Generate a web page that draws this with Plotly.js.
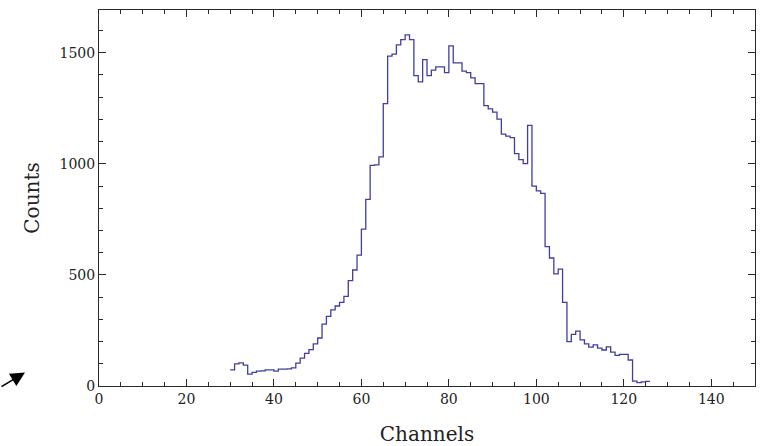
<!DOCTYPE html>
<html><head><meta charset="utf-8">
<script src="https://cdn.plot.ly/plotly-3.0.1.min.js"></script>
<style>html,body{margin:0;padding:0;background:#fff}</style>
</head><body><div id="chart" style="width:763px;height:446px"></div>
<script>
const firstChannel = 30;
const counts = [
  73, 100, 104, 94, 53, 61, 67, 68, 73, 73,
  67, 76, 76, 77, 82, 103, 125, 147, 164, 190,
  216, 278, 313, 343, 360, 376, 403, 474, 522, 589,
  706, 840, 993, 995, 1031, 1271, 1484, 1493, 1535, 1559,
  1580, 1559, 1397, 1369, 1469, 1397, 1421, 1436, 1436, 1410,
  1531, 1454, 1454, 1417, 1410, 1387, 1361, 1361, 1262, 1247,
  1232, 1201, 1133, 1124, 1118, 1046, 1019, 1001, 1173, 899,
  878, 867, 627, 576, 505, 526, 376, 200, 232, 247,
  208, 190, 175, 185, 170, 162, 176, 152, 138, 142,
  142, 117, 22, 15, 19, 21
];
const xTickValues = [0, 20, 40, 60, 80, 100, 120, 140];
const yTickValues = [0, 500, 1000, 1500];
const xTitle = 'Channels';
const yTitle = 'Counts';

// bin edges: left edge of each bin, plus the right edge of the last bin
const edges = counts.map((_, i) => firstChannel + i);
edges.push(firstChannel + counts.length);
const stepCounts = counts.concat([counts[counts.length - 1]]);

const frameColor = '#2a2a2a';
const tickFont = {family: 'DejaVu Serif', size: 14, color: '#222'};
const titleFont = {family: 'DejaVu Serif', size: 20, color: '#222'};

const trace = {
  x: edges, y: stepCounts, type: 'scatter', mode: 'lines',
  line: {shape: 'hv', color: '#3f3fa0', width: 1.3},
  hoverinfo: 'x+y'
};

const layout = {
  width: 763, height: 446,
  margin: {l: 99, r: 8, t: 10, b: 60},
  paper_bgcolor: '#fff', plot_bgcolor: '#fff',
  showlegend: false,
  xaxis: {
    range: [0, 150], tickvals: xTickValues, ticktext: xTickValues.map(String),
    ticks: 'inside', ticklen: 7, tickwidth: 1, tickcolor: frameColor,
    minor: {tick0: 0, dtick: 5, ticks: 'inside', ticklen: 4, tickcolor: frameColor, showgrid: false},
    showline: true, linecolor: frameColor, linewidth: 1, mirror: 'allticks',
    showgrid: false, zeroline: false, tickfont: tickFont,
    title: {text: xTitle, font: titleFont, standoff: 23}
  },
  yaxis: {
    range: [0, 1692], tickvals: yTickValues, ticktext: yTickValues.map(String),
    ticks: 'inside', ticklen: 7, tickwidth: 1, tickcolor: frameColor,
    minor: {tick0: 0, dtick: 100, ticks: 'inside', ticklen: 4, tickcolor: frameColor, showgrid: false},
    showline: true, linecolor: frameColor, linewidth: 1, mirror: 'allticks',
    showgrid: false, zeroline: false, tickfont: tickFont,
    title: {text: yTitle, font: titleFont, standoff: 14}
  },
  annotations: [{
    xref: 'paper', yref: 'paper', x: -0.1128, y: 0.036,
    ax: -28, ay: 15, text: '', showarrow: true,
    arrowhead: 2, arrowsize: 1.8, arrowwidth: 1.6, arrowcolor: '#000'
  }]
};

Plotly.newPlot('chart', [trace], layout, {displayModeBar: false, staticPlot: true});
</script>
</body></html>
